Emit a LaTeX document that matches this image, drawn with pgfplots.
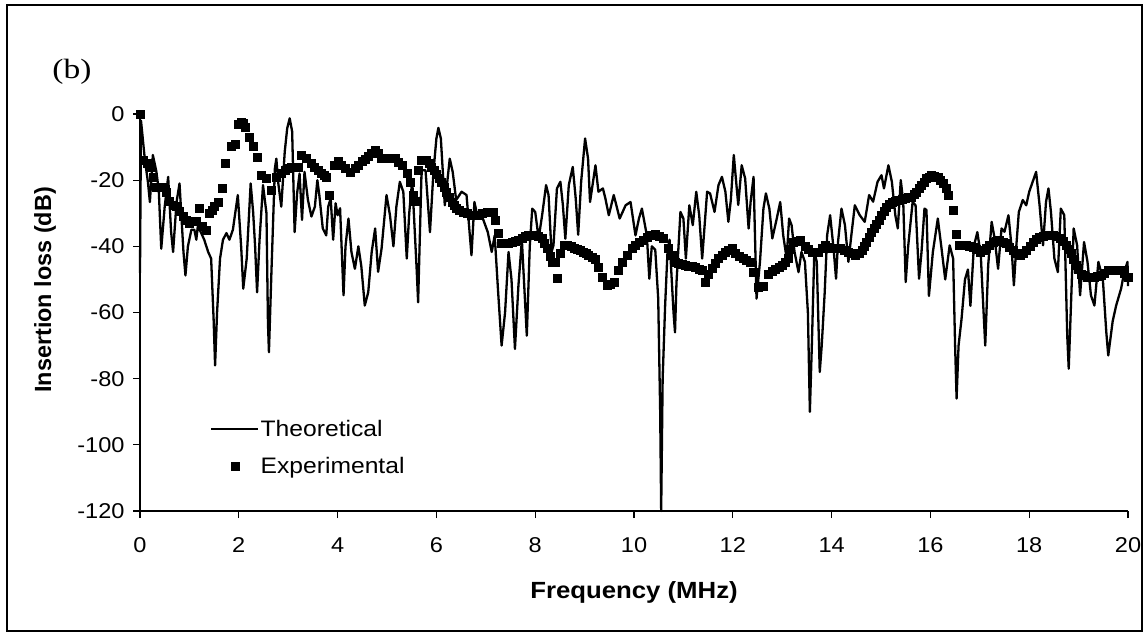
\documentclass[border=0pt]{standalone}
\usepackage{fontspec}
\setmainfont{Liberation Sans}[FakeStretch=1.1]
\newfontfamily\plainsans{Liberation Sans}
\newfontfamily\seriffont{Liberation Serif}[FakeStretch=1.2]
\usepackage{pgfplots}
\pgfplotsset{compat=1.18}
\begin{document}
\begin{tikzpicture}
\path[use as bounding box] (0bp,0bp) rectangle (1145bp,633bp);
\draw[line width=1.3bp,black] (7bp,2bp) rectangle (1142bp,628bp);
\node[font=\seriffont\fontsize{28}{28}\selectfont,anchor=center] at (72bp,561bp) {(b)};
\begin{axis}[
  at={(140bp,122bp)}, anchor=south west,
  scale only axis, width=988bp, height=397bp,
  xmin=0, xmax=20, ymin=-120, ymax=0,
  clip=false,
  axis x line=bottom, axis y line=left,
  axis line style={-, line width=1.2bp},
  xtick={0,2,...,20}, ytick={-120,-100,...,0},
  tick align=outside, major tick length=7bp,
  every tick/.style={black, line width=1.1bp},
  /pgf/number format/assume math mode=true,
  tick label style={font=\fontsize{21.5}{21.5}\selectfont},
  xticklabel style={yshift=-16bp},
  yticklabel style={xshift=-5bp},
  xlabel={\textbf{Frequency (MHz)}},
  ylabel={\textbf{Insertion loss (dB)}},
  every axis x label/.style={at={(rel axis cs:0.5,-0.204)}, anchor=center, font=\fontsize{23.5}{23.5}\selectfont},
  every axis y label/.style={at={(rel axis cs:-0.096,0.557)}, anchor=center, rotate=90, font=\plainsans\fontsize{23.5}{23.5}\selectfont},
  legend style={draw=none, fill=none, at={(rel axis cs:0.071,0.232)}, anchor=north west,
    font=\fontsize{22.5}{22.5}\selectfont, row sep=17bp, inner sep=0pt,
    nodes={inner sep=1bp}},
  legend cell align=left,
  legend image code/.code={\draw[mark repeat=2,mark phase=2,#1] plot coordinates {(0bp,0bp) (23.5bp,0bp) (47bp,0bp)};},
]
\addplot[black, line width=2.3bp, line join=round, mark=none] coordinates {
(0,-48) (0.02,-2) (0.1,-14) (0.16,-20.5) (0.2,-26.6) (0.26,-12.4) (0.33,-17.3) (0.38,-23)
(0.43,-40.7) (0.5,-28) (0.57,-19) (0.63,-35.7) (0.67,-41.7) (0.74,-26.6) (0.8,-21) (0.88,-41.7)
(0.92,-48.8) (0.97,-40) (1.04,-35) (1.1,-35) (1.14,-38) (1.17,-34) (1.24,-36) (1.3,-38)
(1.38,-41.7) (1.44,-43.7) (1.49,-62) (1.52,-76) (1.56,-60) (1.62,-43.7) (1.68,-38) (1.75,-36)
(1.81,-38) (1.88,-35) (1.98,-24.5) (2.05,-40.7) (2.09,-52.8) (2.16,-43.7) (2.24,-21) (2.29,-29.6)
(2.33,-40) (2.37,-53.9) (2.42,-38) (2.49,-21.5) (2.56,-30) (2.59,-63) (2.61,-72) (2.66,-48)
(2.73,-16.5) (2.76,-13.5) (2.8,-21) (2.86,-28) (2.93,-11.4) (2.98,-4.3) (3.03,-1.3) (3.08,-5.3)
(3.13,-35.7) (3.18,-24) (3.23,-18) (3.28,-32) (3.33,-17.5) (3.4,-26) (3.47,-31) (3.54,-28)
(3.59,-20) (3.63,-24.5) (3.7,-34.6) (3.77,-36.7) (3.81,-28) (3.86,-25.5) (3.91,-38) (3.96,-27)
(4.0,-30.6) (4.05,-28.5) (4.12,-54.8) (4.16,-40) (4.22,-31.6) (4.28,-41.7) (4.35,-46.8) (4.42,-40)
(4.48,-46) (4.55,-57.9) (4.62,-53.9) (4.69,-41.7) (4.76,-34.6) (4.82,-47.7) (4.89,-40.7) (4.99,-24.5)
(5.06,-30.6) (5.13,-40) (5.19,-28) (5.26,-20.5) (5.33,-23.5) (5.4,-43.7) (5.45,-30) (5.51,-20)
(5.6,-46.8) (5.63,-56.9) (5.7,-17) (5.78,-17) (5.87,-35.7) (5.94,-17.5) (6.0,-7.4) (6.04,-4.2)
(6.09,-7.4) (6.17,-27.6) (6.27,-13.5) (6.33,-17.5) (6.4,-26) (6.51,-23.5) (6.61,-24.5) (6.71,-42.7)
(6.77,-26.6) (6.84,-31.6) (6.94,-31.6) (7.04,-35.7) (7.12,-41.7) (7.18,-36.7) (7.25,-53.9) (7.32,-70)
(7.39,-60) (7.46,-41.7) (7.52,-50) (7.59,-71) (7.66,-52) (7.73,-38) (7.83,-67) (7.89,-40)
(7.94,-28.6) (8.0,-29.6) (8.07,-37.6) (8.14,-30.6) (8.22,-21.5) (8.27,-24.5) (8.33,-41.7) (8.37,-39.7)
(8.44,-22.5) (8.51,-20.5) (8.56,-27.5) (8.61,-37.7) (8.68,-21.5) (8.76,-16) (8.82,-25.5) (8.87,-36.5)
(8.93,-20.5) (9.01,-7.4) (9.07,-13.5) (9.11,-26.6) (9.22,-15.5) (9.28,-23.5) (9.37,-22.5) (9.42,-25.5)
(9.49,-30.6) (9.59,-24.5) (9.71,-31.6) (9.83,-27.6) (9.93,-26.6) (10.03,-36.7) (10.1,-31.6) (10.16,-28.6)
(10.26,-36.7) (10.31,-49.8) (10.36,-40) (10.43,-41) (10.49,-55.8) (10.53,-90) (10.55,-120) (10.58,-80)
(10.63,-57.9) (10.68,-41) (10.72,-38) (10.8,-60) (10.83,-66) (10.86,-51) (10.94,-29.6) (11.0,-31.6)
(11.05,-43.7) (11.12,-27.6) (11.19,-33.6) (11.26,-23.5) (11.32,-30.6) (11.38,-43.7) (11.43,-33.6) (11.48,-23.5)
(11.54,-24) (11.63,-29.6) (11.71,-21.5) (11.78,-19) (11.85,-23.5) (11.91,-32.6) (11.96,-26) (12.02,-12.4)
(12.08,-22.5) (12.11,-27.5) (12.18,-15.5) (12.25,-19.5) (12.32,-34.6) (12.36,-26.6) (12.42,-19) (12.48,-55.8)
(12.55,-44.7) (12.62,-28.6) (12.67,-24) (12.74,-28.6) (12.8,-37.6) (12.89,-31.6) (12.96,-26.6) (13.02,-36.6)
(13.09,-43.7) (13.14,-31.6) (13.19,-33.6) (13.25,-41.7) (13.33,-47.8) (13.39,-41.7) (13.46,-44.7) (13.52,-60)
(13.56,-90) (13.6,-70) (13.65,-41.7) (13.7,-44.7) (13.76,-78) (13.8,-70) (13.86,-54) (13.91,-36.6)
(13.97,-30.6) (14.04,-40.7) (14.09,-49.8) (14.13,-38.7) (14.2,-28.6) (14.27,-33.6) (14.34,-44.7) (14.4,-36.6)
(14.47,-27.6) (14.57,-30.6) (14.67,-32.6) (14.76,-24.5) (14.84,-26.5) (14.93,-20.5) (15.01,-18.5) (15.06,-22.5)
(15.15,-15.5) (15.22,-20.5) (15.29,-30.6) (15.34,-34.6) (15.4,-20) (15.45,-26.6) (15.5,-50.8) (15.55,-40)
(15.64,-26.6) (15.7,-27.6) (15.77,-49.8) (15.82,-41.7) (15.88,-28.6) (15.92,-29) (15.97,-55) (16.05,-41.7)
(16.15,-31.6) (16.22,-40) (16.3,-50) (16.39,-39.7) (16.46,-43.7) (16.5,-70) (16.53,-86) (16.57,-70)
(16.63,-62) (16.7,-50) (16.76,-47) (16.81,-58) (16.88,-40) (16.95,-35.7) (17.02,-42.7) (17.07,-58)
(17.11,-70) (17.17,-45.7) (17.24,-32.6) (17.3,-37.6) (17.37,-46.8) (17.44,-34.6) (17.5,-35.6) (17.58,-30.6)
(17.64,-39.7) (17.69,-51.8) (17.74,-39.7) (17.79,-29.6) (17.87,-26) (17.94,-27.6) (18.0,-23.5) (18.07,-20.5)
(18.14,-17.5) (18.21,-27.6) (18.28,-39.7) (18.34,-26.6) (18.39,-22.5) (18.44,-29.6) (18.51,-43.7) (18.58,-47.8)
(18.64,-28.6) (18.71,-30.6) (18.77,-67) (18.8,-77) (18.85,-55.8) (18.9,-34.6) (18.97,-39.7) (19.03,-54.8)
(19.11,-38.7) (19.18,-44.7) (19.25,-54.8) (19.32,-57.9) (19.4,-44.7) (19.49,-49.8) (19.56,-65.8) (19.6,-73)
(19.69,-62.6) (19.76,-57.9) (19.86,-52.8) (19.92,-48) (19.99,-44.7) (20.0,-52)
};
\addlegendentry{Theoretical}
\addplot[only marks, mark=square*, mark size=4bp, black] coordinates {
(0,0) (0.07,-14) (0.14,-15) (0.2,-16) (0.27,-19) (0.33,-22) (0.4,-22) (0.47,-22)
(0.53,-23.5) (0.6,-26.5) (0.67,-27.5) (0.73,-28) (0.8,-29.5) (0.87,-31) (0.93,-32) (1.0,-33)
(1.07,-32.5) (1.13,-32.5) (1.19,-28.4) (1.26,-34) (1.33,-35) (1.41,-30) (1.47,-29) (1.51,-28)
(1.59,-26.6) (1.67,-22.5) (1.73,-15) (1.84,-9.6) (1.92,-9.2) (1.98,-3) (2.04,-2.5) (2.08,-2.8)
(2.13,-4) (2.22,-6.9) (2.29,-9.6) (2.37,-13.2) (2.46,-18.5) (2.56,-19.5) (2.66,-23) (2.76,-19)
(2.86,-18) (2.93,-17) (3.0,-16.5) (3.07,-16.2) (3.13,-16) (3.2,-16) (3.27,-12.4) (3.37,-13.4)
(3.47,-15) (3.53,-16) (3.6,-17) (3.67,-18) (3.73,-18.5) (3.77,-19) (3.84,-24.5) (3.94,-15.5)
(4.01,-14.4) (4.08,-15.5) (4.15,-16.5) (4.25,-17.5) (4.35,-16.5) (4.42,-15.5) (4.49,-14.4) (4.55,-13.7)
(4.62,-12.9) (4.69,-12) (4.76,-10.9) (4.83,-12) (4.89,-13.4) (4.96,-13.4) (5.03,-13.4) (5.1,-13.4)
(5.16,-13.4) (5.23,-14.5) (5.3,-15.5) (5.4,-18) (5.47,-20.5) (5.53,-24.5) (5.57,-26.5) (5.63,-17)
(5.7,-14) (5.75,-14) (5.8,-14) (5.85,-15) (5.9,-16) (5.95,-17) (6.0,-18.2) (6.05,-19.5)
(6.1,-20.5) (6.15,-22) (6.2,-23.5) (6.25,-25) (6.31,-26.6) (6.36,-27.6) (6.41,-28.6) (6.47,-29)
(6.54,-29.6) (6.62,-30) (6.71,-30.6) (6.78,-30.6) (6.85,-30.6) (6.93,-30) (7.02,-29.6) (7.08,-29.6)
(7.15,-29.6) (7.19,-32) (7.25,-36) (7.32,-39) (7.39,-39) (7.46,-39) (7.53,-38.8) (7.6,-38.5)
(7.66,-38) (7.73,-37.6) (7.8,-37) (7.86,-36.6) (7.93,-36.6) (8.0,-36.6) (8.07,-37) (8.14,-37.6)
(8.19,-39) (8.24,-40.7) (8.3,-43) (8.34,-44.7) (8.4,-44.7) (8.45,-49.5) (8.51,-42) (8.58,-39.7)
(8.65,-39.8) (8.72,-40) (8.78,-40.5) (8.85,-41) (8.92,-41.3) (8.98,-41.7) (9.03,-42.2) (9.08,-42.7)
(9.15,-43.3) (9.21,-44) (9.28,-46.3) (9.35,-49.3) (9.45,-51.8) (9.52,-51.3) (9.59,-50.8) (9.69,-47.3)
(9.76,-44.7) (9.86,-42.7) (9.96,-40.7) (10.03,-39.7) (10.1,-38.7) (10.18,-38) (10.26,-37.2) (10.34,-36.7)
(10.43,-36.2) (10.51,-36.8) (10.6,-37.6) (10.7,-40.7) (10.77,-42.7) (10.84,-44.7) (10.9,-45.2) (10.97,-45.5)
(11.04,-45.7) (11.1,-45.9) (11.17,-46.1) (11.24,-46.3) (11.31,-46.8) (11.38,-47.3) (11.44,-50.8) (11.51,-48.5)
(11.58,-46.5) (11.65,-45) (11.71,-43.7) (11.78,-42.7) (11.84,-41.7) (11.91,-41.2) (11.98,-40.7) (12.05,-42)
(12.13,-43) (12.21,-43.7) (12.28,-44.2) (12.35,-44.7) (12.42,-47.8) (12.52,-52.3) (12.62,-52) (12.72,-48.3)
(12.79,-47.5) (12.86,-46.8) (12.93,-46.2) (12.99,-45.7) (13.06,-44.7) (13.12,-43.7) (13.17,-41) (13.22,-38.7)
(13.29,-38.4) (13.36,-38.2) (13.46,-40) (13.53,-41) (13.6,-41.7) (13.66,-41.7) (13.73,-41.7) (13.8,-40.7)
(13.87,-39.7) (13.93,-40.2) (14.0,-40.7) (14.08,-40.7) (14.17,-40.7) (14.25,-41.2) (14.34,-41.7) (14.41,-42.2)
(14.48,-42.7) (14.55,-42) (14.61,-41.2) (14.66,-40) (14.71,-38.7) (14.76,-37.2) (14.81,-35.7) (14.86,-34.5)
(14.91,-33.2) (14.96,-32) (15.01,-30.6) (15.06,-29.3) (15.11,-28.1) (15.16,-27.3) (15.22,-26.6) (15.28,-26.3)
(15.35,-26) (15.42,-25.7) (15.48,-25.5) (15.55,-25.2) (15.62,-25) (15.67,-24.2) (15.72,-23.5) (15.77,-22.5)
(15.82,-21.5) (15.87,-20.5) (15.92,-19.5) (15.97,-19) (16.02,-18.5) (16.08,-18.7) (16.15,-19) (16.2,-20)
(16.25,-21) (16.31,-22.5) (16.36,-24.5) (16.46,-29) (16.53,-36.2) (16.59,-39.7) (16.65,-39.7) (16.72,-39.7)
(16.79,-40) (16.86,-40.2) (16.93,-41) (17.0,-41.7) (17.06,-41.2) (17.13,-40.7) (17.2,-39.7) (17.27,-38.7)
(17.34,-38.4) (17.4,-38.2) (17.47,-38.7) (17.54,-39.2) (17.6,-40.2) (17.67,-41.2) (17.74,-42) (17.81,-42.7)
(17.88,-42) (17.94,-41.2) (18.01,-40) (18.08,-38.7) (18.15,-37.9) (18.21,-37.2) (18.28,-36.9) (18.35,-36.7)
(18.42,-36.7) (18.49,-36.7) (18.55,-37) (18.62,-37.6) (18.69,-38.6) (18.75,-39.7) (18.8,-41) (18.85,-42.2)
(18.9,-44) (18.95,-45.7) (19.0,-47) (19.05,-48.3) (19.12,-48.8) (19.18,-49.3) (19.25,-49.3) (19.32,-49.3)
(19.38,-49) (19.45,-48.8) (19.52,-48) (19.59,-47.3) (19.66,-47.3) (19.72,-47.3) (19.79,-47.3) (19.86,-47.3)
(19.93,-48) (20.0,-49.3)
};
\addlegendentry{Experimental}
\end{axis}
\end{tikzpicture}
\end{document}
